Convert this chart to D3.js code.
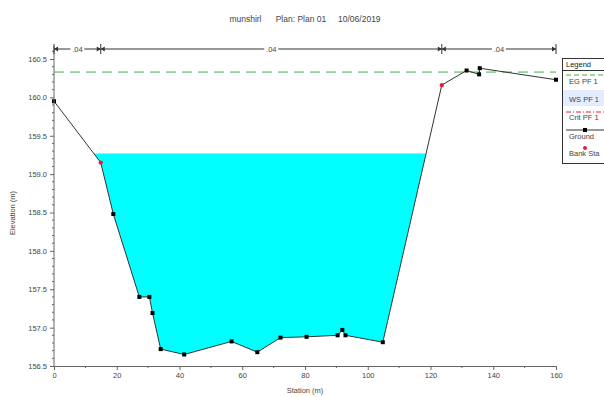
<!DOCTYPE html>
<html><head><meta charset="utf-8">
<script src="https://cdn.jsdelivr.net/npm/d3@7/dist/d3.min.js"></script>
<style>body{margin:0;background:#fff}svg{display:block;font-family:"Liberation Sans",Arial,sans-serif}</style>
</head><body><svg id="c" width="604" height="397"></svg>
<script>
const title = "munshirl      Plan: Plan 01     10/06/2019";
const stations = [0, 14.9, 18.9, 27.2, 30.4, 31.4, 34.0, 41.5, 56.6, 64.8, 72.2, 80.5, 90.4, 91.9, 92.9, 104.8, 123.6, 131.5, 135.5, 135.7, 160];
const elevations = [159.95, 159.15, 158.48, 157.40, 157.40, 157.19, 156.72, 156.65, 156.82, 156.68, 156.87, 156.88, 156.90, 156.97, 156.90, 156.81, 160.16, 160.35, 160.30, 160.38, 160.23];
const bankStations = [14.9, 123.6];
const bankElevations = [159.15, 160.16];
const nValues = [".04", ".04", ".04"];
const wsElevation = 159.27;
const egElevation = 160.33;
const xTicks = [0, 20, 40, 60, 80, 100, 120, 140, 160];
const yTicks = [156.5, 157.0, 157.5, 158.0, 158.5, 159.0, 159.5, 160.0, 160.5];
const legendItems = ["EG PF 1", "WS PF 1", "Crit PF 1", "Ground", "Bank Sta"];

const svg = d3.select("#c");
const x = d3.scaleLinear().domain([0, 160]).range([54, 556]);
const y = d3.scaleLinear().domain([156.5, 160.5]).range([366, 59]);
const txt = "#444";

svg.append("text").attr("x", 305).attr("y", 22).attr("text-anchor", "middle")
  .attr("font-size", 8.5).attr("fill", txt).attr("xml:space", "preserve").text(title);

// water polygon: clip ground below ws
const pts = stations.map((s, i) => [s, elevations[i]]);
let poly = [];
let wet = false;
for (let i = 0; i < pts.length - 1; i++) {
  const [s0, e0] = pts[i], [s1, e1] = pts[i + 1];
  const b0 = e0 < wsElevation, b1 = e1 < wsElevation;
  if (b0) poly.push([s0, e0]);
  if (b0 !== b1) {
    const t = (wsElevation - e0) / (e1 - e0);
    poly.push([s0 + t * (s1 - s0), wsElevation]);
  }
}
svg.append("path").attr("d", d3.line().x(d => x(d[0])).y(d => y(d[1]))(poly) + "Z")
  .attr("fill", "#00ffff").attr("stroke", "none");

// EG line
svg.append("line").attr("x1", x(0)).attr("x2", x(160)).attr("y1", y(egElevation)).attr("y2", y(egElevation))
  .attr("stroke", "#3cb43c").attr("stroke-width", 1).attr("stroke-dasharray", "10,6");

// ground
svg.append("path").attr("d", d3.line().x(d => x(d[0])).y(d => y(d[1]))(pts))
  .attr("fill", "none").attr("stroke", "#333").attr("stroke-width", 1);
svg.selectAll(".gp").data(pts.filter(p => !bankStations.includes(p[0]))).enter().append("rect")
  .attr("x", d => x(d[0]) - 2).attr("y", d => y(d[1]) - 2).attr("width", 4).attr("height", 4).attr("fill", "#000");
svg.selectAll(".bp").data(bankStations).enter().append("circle")
  .attr("cx", d => x(d)).attr("cy", (d, i) => y(bankElevations[i])).attr("r", 2.2).attr("fill", "#e0203a");

// axes
const yAx = d3.axisLeft(y).tickValues(yTicks).tickFormat(d3.format(".1f")).tickSize(4);
const gy = svg.append("g").attr("transform", "translate(54,0)").call(yAx);
const yMinor = d3.range(156.6, 160.7, 0.1).filter(v => Math.abs(v * 2 - Math.round(v * 2)) > 0.01);
gy.selectAll(".mn").data(yMinor).enter().append("line").attr("x1", -2).attr("x2", 0)
  .attr("y1", d => y(d)).attr("y2", d => y(d)).attr("stroke", "#666");
gy.select(".domain").attr("d", "M0,366V46");
const xAx = d3.axisBottom(x).tickValues(xTicks).tickSize(4);
const gx = svg.append("g").attr("transform", "translate(0,366)").call(xAx);
gx.selectAll(".mn").data(d3.range(10, 160, 20)).enter().append("line").attr("y1", 0).attr("y2", 2)
  .attr("x1", d => x(d)).attr("x2", d => x(d)).attr("stroke", "#666");
[gx, gy].forEach(g => {
  g.selectAll("path,line").attr("stroke", "#666");
  g.selectAll("text").attr("fill", txt).attr("font-size", 7.5).attr("font-family", "Liberation Sans, Arial, sans-serif");
});

svg.append("text").attr("transform", "translate(15,213) rotate(-90)").attr("text-anchor", "middle")
  .attr("font-size", 7.5).attr("fill", txt).text("Elevation (m)");
svg.append("text").attr("x", 305).attr("y", 393).attr("text-anchor", "middle")
  .attr("font-size", 7.5).attr("fill", txt).text("Station (m)");

// bank / n value line
const topY = 49;
const bounds = [0, bankStations[0], bankStations[1], 160];
nValues.forEach((n, i) => {
  const a = x(bounds[i]), b = x(bounds[i + 1]), m = (a + b) / 2;
  const w = 14;
  svg.append("line").attr("x1", a).attr("x2", m - w / 2).attr("y1", topY).attr("y2", topY).attr("stroke", "#333");
  svg.append("line").attr("x1", m + w / 2).attr("x2", b).attr("y1", topY).attr("y2", topY).attr("stroke", "#333");
  svg.append("text").attr("x", m).attr("y", topY + 3).attr("text-anchor", "middle").attr("font-size", 7.5)
    .attr("fill", txt).text(n);
});
bounds.forEach((s, i) => {
  const px = x(s);
  svg.append("line").attr("x1", px).attr("x2", px).attr("y1", topY - 5).attr("y2", topY + 5).attr("stroke", "#333");
  if (i > 0) svg.append("path").attr("d", `M${px},${topY}l-4,-2.5v5z`).attr("fill", "#333");
  if (i < 3) svg.append("path").attr("d", `M${px},${topY}l4,-2.5v5z`).attr("fill", "#333");
});

// legend
const lg = svg.append("g");
lg.append("rect").attr("x", 562.5).attr("y", 58.5).attr("width", 60).attr("height", 105)
  .attr("fill", "#fff").attr("stroke", "#333");
lg.append("text").attr("x", 566).attr("y", 67).attr("font-size", 7.5).attr("fill", "#222").text("Legend");
lg.append("line").attr("x1", 562).attr("x2", 604).attr("y1", 70.5).attr("y2", 70.5).attr("stroke", "#333");
const rowY = [84, 102, 120, 139, 156];
const sampleY = [75, 93, 112, 130, 148];
legendItems.forEach((t, i) => {
  if (i === 1) lg.append("rect").attr("x", 563).attr("y", 90).attr("width", 41).attr("height", 16).attr("fill", "#e4ecff");
  lg.append("text").attr("x", 569).attr("y", rowY[i]).attr("font-size", 7.5).attr("fill", txt).text(t);
});
lg.append("line").attr("x1", 566).attr("x2", 604).attr("y1", sampleY[0]).attr("y2", sampleY[0])
  .attr("stroke", "#3cb43c").attr("stroke-dasharray", "5,3");
lg.append("line").attr("x1", 566).attr("x2", 604).attr("y1", sampleY[2]).attr("y2", sampleY[2])
  .attr("stroke", "#e0203a").attr("stroke-dasharray", "5,2,1,2");
lg.append("line").attr("x1", 566).attr("x2", 604).attr("y1", sampleY[3]).attr("y2", sampleY[3]).attr("stroke", "#333");
lg.append("rect").attr("x", 583).attr("y", sampleY[3] - 2).attr("width", 4).attr("height", 4).attr("fill", "#000");
lg.append("circle").attr("cx", 585).attr("cy", sampleY[4]).attr("r", 2).attr("fill", "#e0203a");
</script></body></html>
